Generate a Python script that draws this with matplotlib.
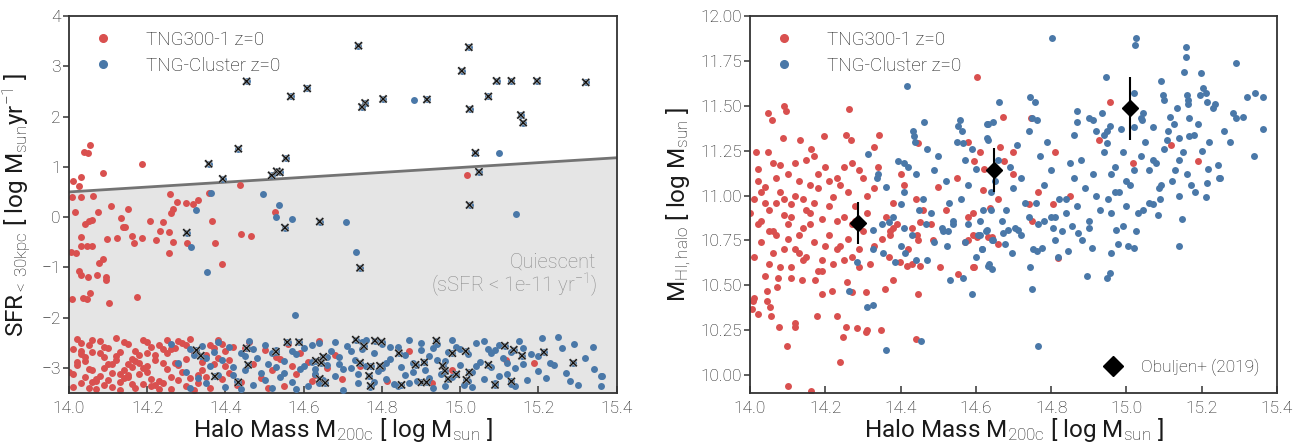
import matplotlib
matplotlib.use('Agg')
import matplotlib.pyplot as plt
import matplotlib.patheffects as pe
from matplotlib.lines import Line2D

plt.rcParams['font.family'] = ['Roboto', 'DejaVu Sans']
plt.rcParams['font.weight'] = 'light'
plt.rcParams['mathtext.fontset'] = 'custom'
plt.rcParams['mathtext.rm'] = 'Roboto:light'
plt.rcParams['mathtext.it'] = 'Roboto:italic:light'
plt.rcParams['mathtext.bf'] = 'Roboto:bold'

RED = '#d9504f'
BLUE = '#4a78a8'
TXT = '#1a1a1a'

# ---------------- LEFT PANEL DATA (SFR vs halo mass) ----------------
# TNG300-1 star-forming / sparse points
red_m200_sf = [14.011, 14.026, 14.032, 14.038, 14.049, 14.054, 14.088, 14.186, 14.009, 14.031,
               14.062, 14.016, 14.073, 14.107, 14.152, 14.258, 14.275, 14.265, 14.262, 14.300,
               14.318, 14.331, 14.358, 14.437, 14.526, 14.132, 14.207, 14.241, 14.365, 14.040,
               14.050, 14.060, 14.139, 15.017, 14.032, 14.004, 14.018, 14.032, 14.045, 14.058,
               14.076, 14.088, 14.026, 14.031, 14.048, 14.071, 14.095, 14.095, 14.007, 14.035,
               14.047, 14.054, 14.103, 14.173, 14.096, 14.122, 14.143, 14.160, 14.167, 14.187,
               14.222, 14.233, 14.255, 14.266, 14.256, 14.301, 14.373, 14.390, 14.465, 14.439]
red_sfr_sf = [0.71, 0.61, 0.79, 1.29, 1.28, 1.44, 0.88, 1.06, 0.40, 0.39,
              0.41, 0.10, 0.11, 0.22, 0.17, 0.46, 0.30, 0.16, 0.09, 0.27,
              0.26, 0.33, 0.47, 0.64, 0.10, -0.02, -0.07, -0.09, -0.07, -0.13,
              -0.07, -0.06, -0.20, 0.84, -0.39, -0.69, -0.71, -0.58, -0.58, -0.57,
              -0.91, -0.83, -1.07, -1.16, -1.20, -1.16, -1.20, -1.25, -1.63, -1.61,
              -1.64, -1.52, -1.71, -1.59, -0.44, -0.41, -0.19, -0.38, -0.52, -0.42,
              -0.46, -0.28, -0.30, -0.50, -0.71, -0.52, -0.51, -0.93, -0.37, -0.33]

# TNG300-1 quiescent band
red_m200_q = [14.01, 14.02, 14.03, 14.01, 14.04, 14.05, 14.03, 14.06, 14.02, 14.07,
              14.08, 14.05, 14.09, 14.04, 14.10, 14.06, 14.07, 14.11, 14.08, 14.03,
              14.12, 14.09, 14.13, 14.10, 14.14, 14.11, 14.15, 14.12, 14.16, 14.13,
              14.17, 14.14, 14.18, 14.15, 14.19, 14.16, 14.20, 14.17, 14.21, 14.18,
              14.22, 14.19, 14.23, 14.20, 14.24, 14.21, 14.25, 14.22, 14.26, 14.23,
              14.27, 14.24, 14.28, 14.25, 14.29, 14.26, 14.30, 14.27, 14.31, 14.28,
              14.32, 14.29, 14.33, 14.30, 14.34, 14.31, 14.35, 14.33, 14.36, 14.34,
              14.37, 14.38, 14.39, 14.40, 14.41, 14.42, 14.38, 14.36, 14.40, 14.39,
              14.01, 14.02, 14.04, 14.05, 14.06, 14.08, 14.09, 14.10, 14.12, 14.13,
              14.14, 14.15, 14.16, 14.18, 14.19, 14.20, 14.21, 14.23, 14.24, 14.25,
              14.00, 14.03, 14.06, 14.07, 14.09, 14.11, 14.13, 14.15, 14.17, 14.20,
              14.22, 14.26, 14.28, 14.30, 14.32, 14.35, 14.37, 14.41, 14.44, 14.46,
              14.47, 14.49, 14.50, 14.52, 14.53, 14.55, 14.56, 14.58, 14.59, 14.61,
              14.62, 14.64, 14.66, 14.68, 14.45, 14.51, 14.57, 14.63, 14.43, 14.54,
              14.697, 14.743, 14.812, 14.869, 14.927, 15.118, 15.188, 14.98]
red_sfr_q = [-2.62, -2.95, -3.30, -3.12, -2.78, -3.40, -2.50, -3.05, -2.88, -3.22,
             -2.71, -2.55, -3.35, -3.18, -2.93, -2.68, -3.42, -3.10, -2.46, -2.72,
             -2.85, -3.00, -3.28, -2.60, -2.49, -3.38, -3.14, -2.77, -2.98, -3.45,
             -2.66, -3.21, -2.90, -2.52, -3.33, -2.82, -3.08, -3.40, -2.58, -3.12,
             -2.74, -2.44, -3.26, -2.96, -2.63, -3.36, -3.02, -2.85, -3.18, -2.55,
             -2.90, -3.30, -2.47, -2.70, -3.08, -3.42, -2.82, -2.60, -3.20, -2.95,
             -2.68, -2.50, -3.15, -3.36, -2.88, -2.42, -2.75, -3.30, -2.55, -3.05,
             -2.93, -2.45, -3.22, -2.66, -3.10, -2.58, -2.80, -3.40, -2.97, -2.52,
             -3.38, -2.42, -2.86, -3.02, -3.28, -3.16, -2.58, -3.24, -2.40, -2.68,
             -3.05, -2.92, -3.32, -2.74, -3.00, -2.48, -3.22, -3.42, -2.90, -2.45,
             -3.08, -2.66, -2.44, -3.26, -2.78, -2.92, -3.12, -3.18, -2.86, -2.70,
             -3.34, -2.62, -3.24, -2.54, -3.44, -3.18, -2.60, -2.85, -3.28, -2.48,
             -2.92, -3.20, -2.64, -3.04, -2.78, -3.36, -2.52, -3.12, -2.70, -2.88,
             -3.26, -2.46, -3.00, -2.74, -2.60, -3.40, -2.96, -3.15, -3.35, -2.82,
             -3.22, -2.96, -3.27, -2.67, -3.31, -2.85, -2.91, -3.05]

# TNG-Cluster sparse (star-forming) points without crosses
blue_m200_sf = [14.362, 14.326, 14.495, 14.537, 14.529, 14.571, 14.881, 15.099, 15.142, 14.707,
                14.313, 14.352, 14.579, 14.733]
blue_sfr_sf = [0.48, 0.14, 0.46, 0.23, 0.01, -0.03, 2.32, 1.28, 0.07, -0.09,
               -0.60, -1.09, -1.95, -0.69]

# TNG-Cluster quiescent band
blue_m200_q = [14.26, 14.28, 14.30, 14.31, 14.32, 14.33, 14.34, 14.35, 14.36, 14.37,
               14.38, 14.39, 14.40, 14.41, 14.42, 14.43, 14.44, 14.45, 14.46, 14.47,
               14.48, 14.49, 14.50, 14.51, 14.52, 14.53, 14.54, 14.55, 14.56, 14.57,
               14.58, 14.59, 14.60, 14.61, 14.62, 14.63, 14.64, 14.65, 14.66, 14.67,
               14.68, 14.69, 14.70, 14.71, 14.72, 14.73, 14.74, 14.75, 14.76, 14.77,
               14.78, 14.79, 14.80, 14.81, 14.82, 14.83, 14.84, 14.85, 14.86, 14.87,
               14.88, 14.89, 14.90, 14.91, 14.92, 14.93, 14.94, 14.95, 14.96, 14.97,
               14.98, 14.99, 15.00, 15.01, 15.02, 15.03, 15.04, 15.05, 15.06, 15.07,
               15.08, 15.09, 15.10, 15.11, 15.12, 15.13, 15.14, 15.15, 15.16, 15.17,
               15.18, 15.20, 15.21, 15.23, 15.25, 15.27, 15.28, 15.29, 15.34, 15.36,
               14.31, 14.35, 14.38, 14.42, 14.44, 14.47, 14.50, 14.53, 14.55, 14.58,
               14.60, 14.62, 14.64, 14.66, 14.68, 14.70, 14.72, 14.74, 14.76, 14.78,
               14.80, 14.82, 14.84, 14.86, 14.88, 14.90, 14.92, 14.94, 14.96, 14.98,
               15.00, 15.02, 15.04, 15.06, 15.08, 15.10, 15.12, 15.14, 15.16, 15.20,
               14.45, 14.52, 14.57, 14.63, 14.69, 14.75, 14.81, 14.87, 14.93, 15.03,
               15.22, 15.24, 15.26, 15.30, 15.32, 15.342, 15.363, 15.36, 15.13, 15.09]
blue_sfr_q = [-2.52, -2.90, -3.08, -2.62, -2.74, -3.20, -2.56, -3.30, -2.96, -2.68,
              -3.14, -2.84, -3.38, -2.58, -2.98, -3.26, -2.70, -3.04, -2.46, -3.34,
              -2.80, -3.10, -2.54, -2.92, -3.40, -2.64, -3.18, -2.86, -2.48, -3.28,
              -2.72, -3.02, -2.60, -3.36, -2.88, -3.12, -2.50, -3.24, -2.94, -2.66,
              -3.16, -2.78, -3.44, -2.56, -3.00, -2.84, -3.30, -2.62, -2.96, -3.38,
              -2.70, -3.06, -2.52, -3.22, -2.82, -3.32, -2.58, -2.98, -3.14, -2.44,
              -2.90, -3.26, -2.64, -3.04, -2.76, -3.40, -2.52, -3.12, -2.86, -2.68,
              -3.18, -2.58, -2.94, -3.34, -2.72, -3.08, -2.50, -2.88, -3.22, -2.62,
              -2.98, -3.30, -2.54, -2.80, -3.12, -2.68, -3.00, -2.46, -2.92, -3.24,
              -2.72, -3.06, -2.41, -2.90, -2.39, -3.10, -3.27, -2.53, -2.59, -3.16,
              -3.40, -2.80, -2.48, -3.14, -3.42, -2.62, -3.24, -2.98, -3.10, -3.42,
              -2.96, -2.54, -3.30, -2.78, -2.48, -3.02, -2.66, -3.12, -2.44, -3.28,
              -3.00, -2.58, -3.36, -2.74, -3.08, -2.50, -3.20, -2.84, -3.36, -2.44,
              -2.62, -3.26, -2.96, -2.46, -2.70, -3.16, -2.90, -3.36, -2.60, -2.76,
              -2.76, -2.70, -2.66, -3.02, -2.92, -2.48, -2.90, -3.30, -2.60, -3.38,
              -3.20, -2.94, -2.60, -3.34, -2.80, -3.02, -3.16, -3.36, -3.32, -2.64]

# TNG-Cluster halos marked with a cross
cross_m200 = [14.454, 14.567, 14.609, 14.357, 14.433, 14.393, 14.518, 14.531, 14.539, 14.554,
              14.641, 14.552, 14.740, 15.022, 15.004, 15.093, 15.131, 15.196, 15.321, 14.757,
              14.749, 14.803, 14.915, 15.072, 15.024, 15.155, 15.161, 15.039, 15.048, 15.024,
              14.301, 14.744,
              14.326, 14.337, 14.373, 14.433, 14.454, 14.458, 14.529, 14.558, 14.588, 14.631,
              14.641, 14.645, 14.650, 14.655, 14.733, 14.754, 14.782, 14.799, 14.744, 14.771,
              14.767, 14.771, 14.795, 14.843, 14.850, 14.886, 14.908, 14.901, 14.914, 14.939,
              14.955, 14.961, 14.969, 14.980, 14.990, 15.014, 15.023, 15.016, 15.072, 15.089,
              15.114, 15.137, 15.158, 15.131, 15.214, 15.289]
cross_sfr = [2.70, 2.40, 2.56, 1.06, 1.36, 0.76, 0.83, 0.91, 0.89, 1.17,
             -0.09, -0.21, 3.41, 3.38, 2.91, 2.71, 2.71, 2.71, 2.68, 2.27,
             2.19, 2.35, 2.34, 2.40, 2.15, 2.03, 1.88, 1.28, 0.90, 0.24,
             -0.31, -1.01,
             -2.65, -2.76, -3.17, -3.29, -2.61, -2.94, -2.68, -2.49, -2.49, -2.86,
             -3.22, -2.90, -2.78, -3.30, -2.44, -2.57, -2.46, -2.48, -2.90, -2.97,
             -3.16, -3.36, -2.96, -2.71, -3.34, -2.94, -2.89, -3.29, -3.29, -2.46,
             -2.96, -3.06, -3.22, -2.71, -3.13, -2.67, -3.09, -3.24, -2.94, -3.34,
             -2.56, -2.64, -2.76, -3.27, -2.69, -2.90]

# quiescence boundary (sSFR = 1e-11 /yr)
bound_m200 = [14.0, 15.4]
bound_sfr = [0.50, 1.18]

# ---------------- RIGHT PANEL DATA (HI mass vs halo mass) ----------------
red_m200_hi = [14.602, 14.049, 14.059, 14.091, 14.096, 14.264, 14.088, 14.133, 14.197, 14.254,
               14.268, 14.344, 14.016, 14.049, 14.162, 14.330, 14.447, 14.580, 14.671, 14.956,
               14.927, 15.118, 15.189, 15.018, 14.746, 14.664, 14.700, 14.611, 14.595, 14.622,
               14.675, 14.766, 14.740, 14.806, 14.638, 14.593, 14.810, 14.593, 14.642, 14.660,
               14.595, 14.819, 14.100, 14.162, 14.239, 14.099, 14.078, 14.120, 14.120, 14.179,
               14.232, 14.254, 14.246, 14.285, 14.307, 14.310, 14.348, 14.441, 14.022, 14.056,
               14.005, 14.190, 14.217, 14.272, 14.307, 14.359, 14.447, 14.381, 14.257, 14.173,
               14.137, 14.109, 14.075, 14.071, 14.046, 14.044, 14.053, 14.011, 14.009, 14.399,
               14.416, 14.430, 14.452, 14.505, 14.447, 14.487, 14.553, 14.593, 14.571, 14.580,
               14.602, 14.633, 14.372, 14.372, 14.381, 14.430, 14.443, 14.452,
               14.01, 14.02, 14.03, 14.04, 14.05, 14.06, 14.07, 14.08, 14.09, 14.10,
               14.11, 14.12, 14.13, 14.14, 14.15, 14.16, 14.17, 14.18, 14.19, 14.20,
               14.21, 14.22, 14.23, 14.24, 14.25, 14.26, 14.27, 14.28, 14.29, 14.30,
               14.01, 14.03, 14.05, 14.07, 14.09, 14.11, 14.13, 14.15, 14.17, 14.19,
               14.02, 14.04, 14.06, 14.08, 14.10, 14.12, 14.14, 14.16, 14.18, 14.20,
               14.21, 14.23, 14.25, 14.27, 14.29, 14.31, 14.33, 14.35, 14.32, 14.34,
               14.00, 14.02, 14.04, 14.06, 14.08, 14.10, 14.12, 14.14, 14.16, 14.18,
               14.22, 14.24, 14.26, 14.28, 14.30, 14.36, 14.38, 14.40, 14.42, 14.44,
               14.03, 14.05, 14.07, 14.09, 14.11, 14.13, 14.15, 14.17, 14.19, 14.21,
               14.23, 14.25, 14.27, 14.29, 14.31, 14.33, 14.37, 14.39, 14.41, 14.46,
               14.48, 14.50, 14.52, 14.55, 14.58, 14.62, 14.66, 14.70, 14.75, 14.85]
red_mhi = [11.66, 11.46, 11.42, 11.50, 11.47, 11.48, 11.32, 11.31, 11.33, 11.34,
           11.31, 11.34, 11.24, 11.24, 11.26, 11.27, 11.29, 11.30, 11.44, 11.52,
           11.31, 11.28, 11.19, 11.18, 11.43, 11.27, 11.24, 11.24, 11.19, 11.15,
           11.19, 11.02, 10.95, 10.95, 10.93, 10.90, 11.24, 10.78, 10.77, 10.73,
           10.60, 10.65, 9.94, 9.91, 10.07, 10.16, 10.27, 10.29, 10.27, 10.33,
           10.33, 10.27, 10.21, 10.26, 10.24, 10.25, 10.25, 10.20, 10.34, 10.33,
           10.37, 10.45, 10.47, 10.46, 10.46, 10.48, 10.45, 10.53, 10.52, 10.53,
           10.53, 10.54, 10.54, 10.49, 10.47, 10.41, 10.38, 10.43, 10.41, 10.63,
           10.61, 10.62, 10.61, 10.60, 10.75, 10.75, 10.56, 10.60, 10.74, 10.75,
           10.77, 10.77, 10.80, 10.78, 10.82, 10.82, 10.78, 10.85,
           10.98, 11.15, 10.86, 11.05, 10.92, 11.18, 10.78, 11.02, 10.89, 11.12,
           10.95, 10.70, 11.08, 10.82, 11.20, 10.90, 10.74, 11.04, 10.87, 11.16,
           10.78, 10.99, 11.10, 10.72, 10.88, 11.02, 10.66, 10.94, 11.14, 10.80,
           10.66, 10.74, 10.62, 10.96, 10.70, 10.60, 10.78, 10.66, 10.96, 10.58,
           10.84, 10.55, 10.80, 10.60, 10.84, 11.00, 10.64, 11.06, 10.58, 10.72,
           11.08, 10.86, 10.64, 11.18, 10.70, 10.90, 11.04, 10.76, 10.62, 11.16,
           10.90, 11.08, 10.96, 10.68, 11.17, 10.76, 11.18, 10.98, 10.84, 11.12,
           10.62, 11.06, 10.76, 10.86, 11.10, 10.88, 10.96, 11.12, 10.70, 10.98,
           11.02, 10.80, 11.10, 10.98, 10.88, 10.68, 10.92, 11.22, 10.64, 10.94,
           10.70, 11.16, 10.84, 10.60, 11.00, 10.72, 10.66, 10.84, 11.06, 10.92,
           10.84, 11.05, 10.92, 11.10, 10.88, 11.03, 10.98, 11.12, 10.86, 11.00]

blue_m200_hi = [14.416, 14.461, 14.433, 14.436, 14.438, 14.558, 14.553, 14.562, 14.565, 14.633,
                14.633, 14.314, 14.337, 14.394, 14.410, 14.803, 15.025, 15.023, 15.158, 15.158,
                15.153, 15.197, 15.290, 15.091, 14.945, 15.098, 15.100, 15.020, 15.160, 15.164,
                15.164, 15.204, 15.195, 15.211, 15.215, 15.229, 15.235, 15.321, 15.342, 15.364,
                15.284, 15.290, 15.362, 15.275, 15.339, 14.662, 14.630, 14.645, 14.744, 14.757,
                14.748, 14.763, 14.868, 14.870, 14.901, 14.912, 14.936, 14.956, 14.948, 14.941,
                14.948, 14.987, 15.045, 15.038, 15.041, 15.070, 15.107, 15.116, 15.127, 15.134,
                15.140, 15.166, 15.166, 15.202, 15.213, 15.244, 15.216, 15.247, 15.211, 15.250,
                15.141, 15.149, 15.182, 15.171, 15.087, 15.091, 15.071, 15.083, 15.045,
                14.326, 14.328, 14.352, 14.384, 14.400, 14.412, 14.410, 14.440, 14.469, 14.468,
                14.514, 14.527, 14.540, 14.523, 14.531, 14.565, 14.571, 14.589, 14.600, 14.616,
                14.607, 14.627, 14.633, 14.285, 14.264, 14.312, 14.328, 14.361, 14.454, 14.350,
                14.370, 14.766, 14.748, 14.744, 14.896, 14.948, 14.956, 15.141, 14.642, 14.636,
                14.695, 14.753, 14.762, 14.775, 14.819, 14.844, 14.909, 14.959, 14.979, 15.005,
                15.021, 15.025, 14.992, 14.972, 14.872, 14.881, 14.855, 14.804, 14.810, 14.766,
                14.704, 14.713, 14.671, 14.686, 14.629, 14.611, 14.616, 14.642, 14.646, 14.677,
                14.36, 14.40, 14.44, 14.48, 14.52, 14.56, 14.60, 14.64, 14.68, 14.72,
                14.76, 14.80, 14.84, 14.88, 14.92, 14.96, 15.00, 15.04, 15.08, 15.12,
                14.38, 14.42, 14.46, 14.50, 14.54, 14.58, 14.62, 14.66, 14.70, 14.74,
                14.78, 14.82, 14.86, 14.90, 14.94, 14.98, 15.02, 15.06, 15.10, 15.14,
                14.41, 14.45, 14.49, 14.53, 14.57, 14.61, 14.65, 14.69, 14.73, 14.77,
                14.81, 14.85, 14.89, 14.93, 14.97, 15.01, 15.05, 15.09, 15.13, 15.18,
                14.34, 14.47, 14.51, 14.59, 14.67, 14.71, 14.79, 14.83, 14.87, 14.91,
                14.95, 14.99, 15.03, 15.07, 15.11, 15.15, 15.19, 15.22, 15.26, 15.31,
                14.55, 14.63, 14.74, 14.80, 14.86, 14.92, 14.97, 15.02, 15.06, 15.16,
                14.43, 14.49, 14.58, 14.64, 14.72, 14.78, 14.84, 14.90, 14.96, 15.00]
blue_mhi = [11.61, 11.41, 11.36, 11.33, 11.30, 11.42, 11.39, 11.36, 11.29, 11.40,
            11.31, 11.23, 11.10, 11.19, 11.18, 11.88, 11.88, 11.84, 11.83, 11.77,
            11.69, 11.68, 11.74, 11.64, 11.66, 11.56, 11.53, 11.57, 11.56, 11.53,
            11.51, 11.60, 11.56, 11.57, 11.52, 11.49, 11.51, 11.55, 11.57, 11.55,
            11.46, 11.43, 11.37, 11.30, 11.22, 11.52, 11.40, 11.41, 11.55, 11.52,
            11.43, 11.42, 11.47, 11.41, 11.43, 11.42, 11.46, 11.39, 11.36, 11.34,
            11.29, 11.37, 11.46, 11.43, 11.42, 11.38, 11.31, 11.44, 11.40, 11.49,
            11.32, 11.43, 11.33, 11.25, 11.07, 11.17, 11.15, 11.10, 10.99, 11.10,
            11.00, 10.87, 11.02, 11.06, 11.04, 11.06, 10.95, 10.89, 10.92,
            10.81, 10.70, 10.68, 10.63, 10.72, 10.68, 10.82, 10.64, 10.64, 10.84,
            10.80, 10.80, 10.84, 10.72, 10.53, 10.54, 10.74, 10.45, 10.66, 10.70,
            10.78, 10.80, 10.61, 10.63, 10.47, 10.38, 10.39, 10.14, 10.19, 10.84,
            10.85, 10.16, 10.48, 10.60, 10.55, 10.54, 10.57, 10.72, 10.59, 10.62,
            10.68, 10.70, 10.69, 10.71, 10.66, 10.69, 10.71, 10.68, 10.73, 10.72,
            10.71, 10.80, 10.83, 10.81, 10.79, 10.75, 10.83, 10.82, 10.75, 10.84,
            10.82, 10.81, 10.79, 10.81, 10.81, 10.78, 10.70, 10.75, 10.75, 10.73,
            11.05, 10.95, 11.12, 10.90, 11.08, 10.98, 11.15, 11.02, 10.92, 11.10,
            10.96, 11.14, 10.90, 11.20, 11.00, 11.12, 10.94, 11.22, 11.18, 11.08,
            10.88, 11.16, 10.98, 11.22, 10.86, 11.06, 10.92, 11.20, 11.04, 10.88,
            11.06, 10.98, 11.10, 10.86, 11.24, 11.02, 11.14, 10.96, 11.26, 11.20,
            11.02, 10.92, 11.14, 10.96, 11.20, 10.86, 11.08, 11.16, 10.96, 11.22,
            10.88, 11.18, 11.04, 10.92, 11.16, 11.06, 11.30, 10.98, 11.14, 11.34,
            11.12, 11.26, 10.82, 11.26, 10.86, 11.28, 11.30, 10.80, 10.94, 11.12,
            10.98, 11.24, 10.90, 11.20, 11.36, 11.24, 11.40, 11.30, 11.36, 11.44,
            11.30, 11.32, 11.36, 10.88, 11.34, 11.36, 11.02, 11.38, 11.14, 11.12,
            10.78, 10.74, 10.84, 10.92, 10.78, 10.86, 10.98, 10.82, 10.90, 11.08]

# Obuljen+ (2019) observational points
obs_m200 = [14.286, 14.648, 15.010]
obs_mhi = [10.847, 11.142, 11.487]
obs_err = [0.115, 0.12, 0.175]

# ---------------- FIGURE ----------------
fig = plt.figure(figsize=(13.01, 4.46), dpi=100)
axL = fig.add_axes([0.053, 0.119, 0.421, 0.845])
axR = fig.add_axes([0.5765, 0.119, 0.405, 0.845])

S = 25
for ax in (axL, axR):
    for sp in ax.spines.values():
        sp.set_color('#333333')
        sp.set_linewidth(1.3)
    ax.tick_params(axis='y', direction='out', length=4.5, width=1.1, color='#333333',
                   labelsize=12.5, labelcolor=TXT, pad=1.5)
    ax.tick_params(axis='x', direction='in', length=5, width=1.1, color='#333333',
                   labelsize=12.5, labelcolor=TXT, pad=6)
    ax.set_xlim(14.0, 15.4)
    ax.set_xticks([14.0, 14.2, 14.4, 14.6, 14.8, 15.0, 15.2, 15.4])
    ax.set_xticklabels(['14.0', '14.2', '14.4', '14.6', '14.8', '15.0', '15.2', '15.4'])
    ax.set_xlabel(r'Halo Mass M$_{\rm 200c}$ [ log M$_{\rm sun}$ ]', fontsize=17.5, color=TXT,
                  labelpad=0)

# left panel
axL.set_ylim(-3.5, 4.0)
axL.set_yticks([-3, -2, -1, 0, 1, 2, 3, 4])
axL.fill_between(bound_m200, bound_sfr, [-3.5, -3.5], color='#e5e5e5', zorder=0, lw=0)
axL.plot(bound_m200, bound_sfr, color='#737373', lw=2.0, zorder=1)
axL.scatter(red_m200_sf + red_m200_q, red_sfr_sf + red_sfr_q, s=S, color=RED, lw=0, zorder=2)
axL.scatter(blue_m200_sf + blue_m200_q + cross_m200, blue_sfr_sf + blue_sfr_q + cross_sfr,
            s=S, color=BLUE, lw=0, zorder=3)
axL.scatter(cross_m200, cross_sfr, s=26, marker='x', color='#111111', linewidths=0.9, zorder=4,
            path_effects=[pe.withStroke(linewidth=1.8, foreground='#a0a0a0')])
axL.text(0.963, 0.333, 'Quiescent', transform=axL.transAxes,
         ha='right', va='baseline', fontsize=14.5, color='#8c8c8c')
axL.text(0.963, 0.2706, '(sSFR < 1e-11 yr$^{-1}$)', transform=axL.transAxes,
         ha='right', va='baseline', fontsize=14.5, color='#8c8c8c')
axL.set_ylabel(r'SFR$_{\rm <\,30kpc}$ [ log M$_{\rm sun}$yr$^{-1}$ ]', fontsize=17.5, color=TXT,
               labelpad=6)

h1 = Line2D([], [], marker='o', ls='none', color=RED, ms=5.5, label='TNG300-1 z=0')
h2 = Line2D([], [], marker='o', ls='none', color=BLUE, ms=5.5, label='TNG-Cluster z=0')
axL.legend(handles=[h1, h2], loc='upper left', frameon=False, fontsize=13.5,
           labelcolor=TXT, handletextpad=1.3, borderaxespad=0.4, labelspacing=0.4)

# right panel
axR.set_ylim(9.9, 12.0)
axR.set_yticks([10.0, 10.25, 10.5, 10.75, 11.0, 11.25, 11.5, 11.75, 12.0])
axR.set_yticklabels(['10.00', '10.25', '10.50', '10.75', '11.00', '11.25', '11.50', '11.75', '12.00'])
axR.scatter(red_m200_hi, red_mhi, s=S, color=RED, lw=0, zorder=2)
axR.scatter(blue_m200_hi, blue_mhi, s=S, color=BLUE, lw=0, zorder=3)
axR.errorbar(obs_m200, obs_mhi, yerr=obs_err, fmt='D', color='black', ms=8,
             elinewidth=1.5, capsize=0, zorder=5)
axR.set_ylabel(r'M$_{\rm HI,halo}$ [ log M$_{\rm sun}$ ]', fontsize=17.5, color=TXT, labelpad=4)

h3 = Line2D([], [], marker='o', ls='none', color=RED, ms=5.5, label='TNG300-1 z=0')
h4 = Line2D([], [], marker='o', ls='none', color=BLUE, ms=5.5, label='TNG-Cluster z=0')
legR = axR.legend(handles=[h3, h4], loc='upper left', frameon=False, fontsize=13.5,
                  labelcolor=TXT, handletextpad=1.3, borderaxespad=0.4, labelspacing=0.4)
axR.add_artist(legR)
h5 = Line2D([], [], marker='D', ls='none', color='black', ms=10, label='Obuljen+ (2019)')
axR.legend(handles=[h5], loc='lower right', frameon=False, fontsize=12.5, labelcolor=TXT,
           handletextpad=0.6, borderaxespad=0.6)

fig.savefig('out.png', dpi=100)
